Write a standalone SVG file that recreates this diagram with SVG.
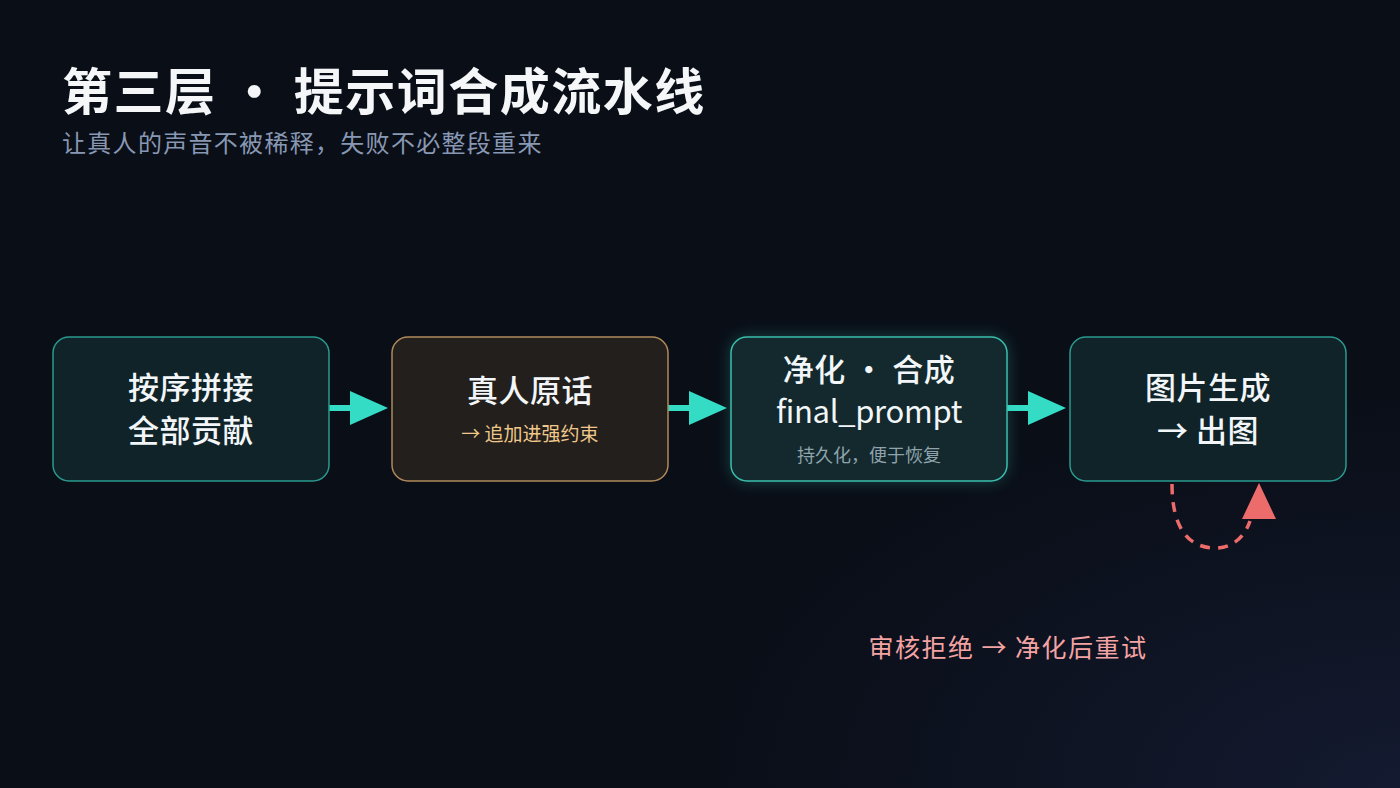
<svg xmlns="http://www.w3.org/2000/svg" width="1400" height="788" viewBox="0 0 1400 788">
<defs>
<style>
text{font-family:"Noto Sans CJK SC","Noto Sans",sans-serif;text-anchor:middle}
.t{fill:#f2f6f8;font-size:31px;font-weight:500;letter-spacing:0.5px}
.teal{fill:#0f2329;stroke:#2a9a8e;stroke-width:1.5}
</style>
<radialGradient id="bg" cx="1" cy="1" r="0.5"><stop offset="0" stop-color="#141a30"/><stop offset="1" stop-color="#0a0e17"/></radialGradient>
<filter id="glow" x="-20%" y="-30%" width="140%" height="160%"><feGaussianBlur stdDeviation="8"/></filter>
</defs>
<rect width="1400" height="788" fill="url(#bg)"/>
<text x="62" y="110" style="text-anchor:start;font-size:50px;font-weight:700;fill:#f4f6f8;letter-spacing:1.5px">第三层 · 提示词合成流水线</text>
<text x="62" y="152" style="text-anchor:start;font-size:24px;fill:#8898b3;letter-spacing:1.3px">让真人的声音不被稀释，失败不必整段重来</text>
<g id="connectors">
<g fill="#34dcc6" stroke="#34dcc6" stroke-width="6">
<line x1="329" y1="408" x2="352" y2="408"/><path d="M350,391L388,408L350,425z" stroke="none"/>
<line x1="668" y1="408" x2="691" y2="408"/><path d="M689,391L727,408L689,425z" stroke="none"/>
<line x1="1007" y1="408" x2="1030" y2="408"/><path d="M1028,391L1066,408L1028,425z" stroke="none"/>
</g>
<path d="M1172,484C1172,530 1190,548 1215,548C1238,548 1247,530 1250,521" fill="none" stroke="#ec6b6b" stroke-width="3.5" stroke-dasharray="10 8"/>
<path d="M1259,483L1276,519L1242,519z" fill="#ec6b6b"/>
</g>
<g id="n1"><rect x="53" y="337" width="276" height="144" rx="16" class="teal"/>
<text x="191" y="399" class="t">按序拼接</text><text x="191" y="442" class="t">全部贡献</text></g>
<g id="n2"><rect x="392" y="337" width="276" height="144" rx="16" fill="#231f1d" stroke="#b08a5a" stroke-width="1.5"/>
<text x="530" y="402" class="t">真人原话</text><text x="530" y="441" style="font-size:19px;fill:#f0c98a">→ 追加进强约束</text></g>
<g id="n3"><rect x="731" y="337" width="276" height="144" rx="16" fill="#2fb8a8" opacity="0.35" filter="url(#glow)"/>
<rect x="731" y="337" width="276" height="144" rx="16" fill="#13292d" stroke="#3bbfae" stroke-width="1.5"/>
<text x="869" y="381" class="t">净化 · 合成</text><text x="869" y="423" class="t" style="font-weight:400;letter-spacing:-0.3px">final_prompt</text>
<text x="869" y="462" style="font-size:18px;fill:#8fa3ac">持久化，便于恢复</text></g>
<g id="n4"><rect x="1070" y="337" width="276" height="144" rx="16" class="teal"/>
<text x="1208" y="399" class="t">图片生成</text><text x="1208" y="442" class="t">→ 出图</text></g>
<text x="1008" y="657" style="font-size:25px;fill:#f4a3a3;letter-spacing:1.5px">审核拒绝 → 净化后重试</text>
</svg>
